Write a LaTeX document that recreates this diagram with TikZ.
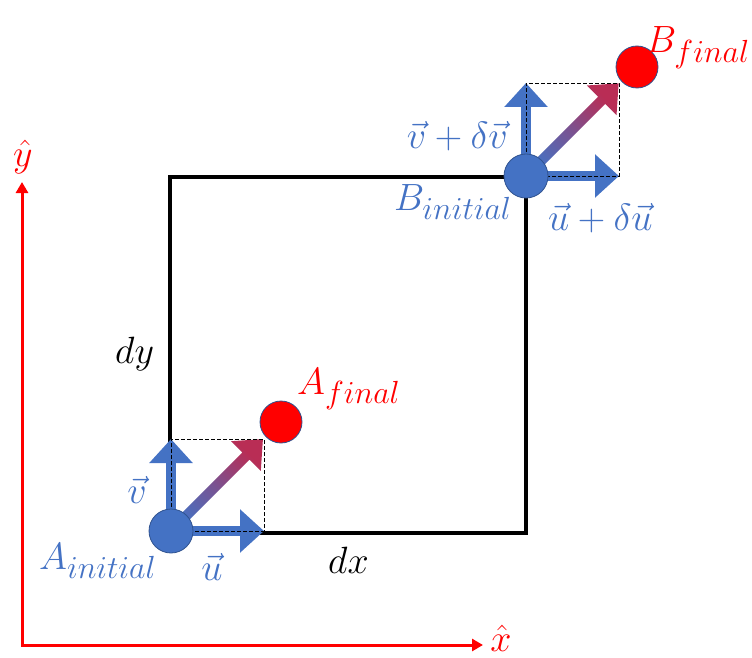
\RequirePackage{fix-cm}
\documentclass[tikz,border=0pt]{standalone}
\usetikzlibrary{arrows.meta}
\DeclareMathSizes{38}{38}{32}{25}
\definecolor{oblue}{HTML}{4472C4}
\definecolor{oedge}{HTML}{2F528F}
\definecolor{ored}{HTML}{FF0000}
\definecolor{crim}{RGB}{185,45,85}
\begin{document}
\begin{tikzpicture}[x=1pt,y=-1pt,
  lbl/.style={font=\fontsize{38}{42}\selectfont, inner sep=0pt},
  lblblue/.style={lbl, text=oblue},
  lblred/.style={lbl, text=ored},
  lblblack/.style={lbl, text=black},
  sqline/.style={line width=4.5pt, black},
  vecarrow/.style={oblue, line width=9.5pt, -{Triangle[length=24pt,width=42pt]}},
  dashbox/.style={black, line width=0.9pt, dash pattern=on 4pt off 2pt},
  bdot/.style={circle, fill=oblue, draw=oedge, line width=0.8pt, minimum size=44pt, inner sep=0pt},
  rdot/.style={circle, fill=ored, draw=oedge, line width=0.8pt, minimum size=42pt, inner sep=0pt},
  axisline/.style={ored, line width=3pt, {Triangle[length=11pt,width=12pt]}-{Triangle[length=11pt,width=12pt]}},
  gradarrow/.style={bottom color=oblue, top color=crim, middle color=oblue!55!crim, shading angle=-45}
]
\useasboundingbox (0,0) rectangle (752,658);

% coordinates
\coordinate (O) at (22,645);
\coordinate (Xend) at (483,645);
\coordinate (Yend) at (22,182);
\coordinate (Ac) at (171,531);
\coordinate (Avtip) at (171,439);
\coordinate (Autip) at (264,531);
\coordinate (Adtip) at (264,439);
\coordinate (Bc) at (526,176);
\coordinate (Bvtip) at (526,83);
\coordinate (Butip) at (619,176);
\coordinate (Bdtip) at (619,83);

% axes
\draw[axisline] (Yend) -- (O) -- (Xend);

% square element
\draw[sqline] (170,177) rectangle (526,533);

% velocity arrows at A
\draw[vecarrow] (Ac) -- (Avtip);
\draw[vecarrow] (Ac) -- (Autip);
\begin{scope}[shift={(Ac)}, rotate=45]
  \shade[gradarrow] (0,-5) -- (106,-5) -- (106,-21) -- (130,0) -- (106,21) -- (106,5) -- (0,5) -- cycle;
\end{scope}

% velocity arrows at B
\draw[vecarrow] (Bc) -- (Bvtip);
\draw[vecarrow] (Bc) -- (Butip);
\begin{scope}[shift={(Bc)}, rotate=45]
  \shade[gradarrow] (0,-5) -- (107,-5) -- (107,-21) -- (131,0) -- (107,21) -- (107,5) -- (0,5) -- cycle;
\end{scope}

% dashed parallelograms
\draw[dashbox] (Ac) rectangle (Adtip);
\draw[dashbox] (Bc) rectangle (Bdtip);

% points
\node[bdot] (A) at (Ac) {};
\node[bdot] (B) at (Bc) {};
\node[rdot] (Af) at (281,422) {};
\node[rdot] (Bf) at (637,67) {};

% labels
\node[lblblue, anchor=base west] (Ainit) at (39,569) {$A_{initial}$};
\node[lblblue, anchor=base] (ulbl) at (212,580) {$\vec{u}$};
\node[lblblue, anchor=base] (vlbl) at (137,503) {$\vec{v}$};
\node[lblred, anchor=base west] (Aflbl) at (297,394) {$A_{final}$};
\node[lblblack, anchor=base west] (dylbl) at (115,363) {$dy$};
\node[lblblack, anchor=base west] (dxlbl) at (328,573) {$dx$};
\node[lblblue, anchor=base east] (vdv) at (508,148) {$\vec{v}+\delta\vec{v}$};
\node[lblblue, anchor=base west] (Binit) at (394,210) {$B_{initial}$};
\node[lblblue, anchor=base west] (udu) at (548,230) {$\vec{u}+\delta\vec{u}$};
\node[lblred, anchor=base west] (Bflbl) at (646,53) {$B_{final}$};
\node[lblred] (yhat) at (23,157) {$\hat{y}$};
\node[lblred] (xhat) at (501,638) {$\hat{x}$};
\end{tikzpicture}
\end{document}
